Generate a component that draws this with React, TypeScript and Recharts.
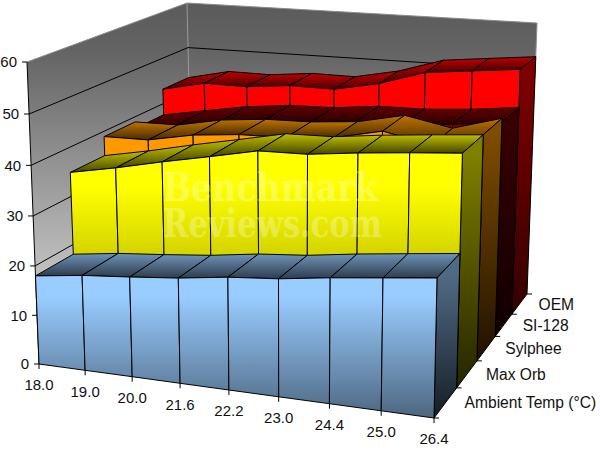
import { ComposedChart, Line, XAxis, YAxis } from "recharts";

const temps = ["18.0", "19.0", "20.0", "21.6", "22.2", "23.0", "24.4", "25.0", "26.4"];
const ambient = [18, 19.2, 20, 20.9, 22.2, 23, 24.3, 25.4, 26.5];
const maxOrb = [34.9, 36.7, 38.8, 40.7, 42.7, 42.9, 44, 44.9, 45.7];
const sylphee = [38.9, 39, 40.8, 41.7, 41.9, 42.7, 44.8, 42.9, 45.7];
const si128 = [37.5, 39.1, 40.7, 41.7, 41.9, 42.9, 43, 43.7, 44.8];
const oem = [43.2, 45.2, 45.1, 46, 45.9, 47.8, 50.8, 51.8, 52.8];
const yTicks = [0, 10, 20, 30, 40, 50, 60];

const data = temps.map((temp, i) => ({
  temp,
  ambient: ambient[i],
  maxOrb: maxOrb[i],
  sylphee: sylphee[i],
  si128: si128[i],
  oem: oem[i],
}));

// back to front, the order excel paints them
const SERIES = [
  { key: "oem", name: "OEM", band: 4, rgb: [255, 0, 0], top: [0.76, 0.3], side: [0.5, 0.2] },
  { key: "si128", name: "SI-128", band: 3, rgb: [128, 0, 0], top: [0.76, 0.36], side: [0.45, 0.12] },
  { key: "sylphee", name: "Sylphee", band: 2, rgb: [255, 153, 0], top: [0.75, 0.28], side: [0.5, 0.12] },
  { key: "maxOrb", name: "Max Orb", band: 1, rgb: [255, 255, 0], top: [0.75, 0.27], side: [0.5, 0.14] },
  { key: "ambient", name: "Ambient Temp (°C)", band: 0, rgb: [153, 204, 255], top: [0.72, 0.3], side: [0.52, 0.14] },
];

const PLOT = { left: 39, top: 62, width: 395, height: 302 };
const FONT = { fontFamily: "Liberation Sans", fontSize: 15, fill: "#111" };

const warp = (t: number, c: number) => t / (t + (1 - t) * c);
const mix = (p: number[], q: number[], t: number) => [p[0] + (q[0] - p[0]) * t, p[1] + (q[1] - p[1]) * t];

// a = along the categories, d = depth, h = height, all 0..1
const project = (a: number, d: number, h: number) => {
  const u = warp(a, 1.08);
  const v = warp(d, 0.78);
  const w = warp(h, 1.04);
  const base = mix(mix([39, 364], [434, 418], u), mix([193, 262], [527, 294], u), v);
  const roof = mix(mix([27, 62], [441, 94], u), mix([187, 3], [537, 23], u), v);
  return mix(base, roof, w);
};

const flatA = (cx: number) => (cx - PLOT.left) / PLOT.width;
const flatH = (cy: number) => (PLOT.top + PLOT.height - cy) / PLOT.height;
const toPath = (pts: number[][]) => pts.map((p) => `${p[0].toFixed(1)},${p[1].toFixed(1)}`).join(" ");
const shade = (rgb: number[], f: number) => `rgb(${rgb.map((c) => Math.round(c * f)).join(",")})`;

const Walls = () => {
  const grid = yTicks.filter((t) => t > 0 && t < 60);
  const corner = [project(0, 1, 0), project(0, 1, 1)];
  const axis = [project(0, 0, 0), project(0, 0, 1)];
  return (
    <g>
      <polygon points={toPath([project(0, 0, 0), project(0, 1, 0), project(1, 1, 0), project(1, 1, 1), project(0, 1, 1), project(0, 0, 1)])} fill="url(#wall)" />
      <polyline points={toPath([project(0, 0, 1), project(0, 1, 1), project(1, 1, 1), project(1, 1, 0.8)])} fill="none" stroke="#8c8c8c" strokeWidth={1} />
      <line x1={corner[0][0]} y1={corner[0][1]} x2={corner[1][0]} y2={corner[1][1]} stroke="#9a9a9a" />
      {grid.map((t) => (
        <polyline key={t} points={toPath([project(0, 0, t / 60), project(0, 1, t / 60), project(1, 1, t / 60)])} fill="none" stroke="#000" strokeWidth={1} />
      ))}
      <line x1={axis[0][0]} y1={axis[0][1]} x2={axis[1][0]} y2={axis[1][1]} stroke="#000" strokeWidth={1} />
    </g>
  );
};

// draws the whole ribbon of a series from the points the Line worked out
const ribbon = (s: (typeof SERIES)[number]) => (props: any) => {
  const { index, points } = props;
  if (index !== 0 || !points) return <g key={`${s.key}-${index}`} />;
  const d0 = s.band / 5;
  const d1 = (s.band + 1) / 5;
  const coords = points.map((p: any) => ({ a: flatA(p.x), h: flatH(p.y) }));
  const last = coords[coords.length - 1];
  const segs = coords.slice(0, -1).map((p: any, i: number) => [p, coords[i + 1]]);
  const tick = project(1, d0, 0);
  const mid = project(1, (d0 + d1) / 2, 0);
  const end = project(1, 1, 0);
  return (
    <g key={`${s.key}-0`}>
      {s.band === 4 && <Walls />}
      {segs.map(([p, q]: any, i: number) => (
        <polygon
          key={`top${i}`}
          points={toPath([project(p.a, d0, p.h), project(q.a, d0, q.h), project(q.a, d1, q.h), project(p.a, d1, p.h)])}
          fill={`url(#top-${s.key})`}
          stroke="#000"
          strokeWidth={1}
          strokeLinejoin="round"
        />
      ))}
      <polygon
        points={toPath([project(1, d0, last.h), project(1, d1, last.h), project(1, d1, 0), project(1, d0, 0)])}
        fill={`url(#side-${s.key})`}
        stroke="#000"
        strokeWidth={1}
      />
      {segs.map(([p, q]: any, i: number) => (
        <polygon
          key={`front${i}`}
          points={toPath([project(p.a, d0, p.h), project(q.a, d0, q.h), project(q.a, d0, 0), project(p.a, d0, 0)])}
          fill={`url(#front-${s.key})`}
          stroke="#000"
          strokeWidth={1}
          strokeLinejoin="round"
        />
      ))}
      <line x1={tick[0]} y1={tick[1]} x2={tick[0] + 5} y2={tick[1]} stroke="#000" />
      {s.band === 4 && <line x1={end[0]} y1={end[1]} x2={end[0] + 5} y2={end[1]} stroke="#000" />}
      <text x={mid[0] + 19} y={mid[1]} dy="0.36em" {...FONT} fontSize={15.6}>
        {s.name}
      </text>
      {s.band === 0 && (
        <g fontFamily="DejaVu Serif" fontWeight="bold" fontSize={40} fill="#fff" fillOpacity={0.3}>
          <text x={163} y={201} textLength={215} lengthAdjust="spacingAndGlyphs">Benchmark</text>
          <text x={163} y={237} textLength={219} lengthAdjust="spacingAndGlyphs">Reviews.com</text>
        </g>
      )}
    </g>
  );
};

const XTick = ({ payload }: any) => {
  const p = project(flatA(payload.coordinate), 0, 0);
  return (
    <g>
      <line x1={p[0]} y1={p[1]} x2={p[0]} y2={p[1] + 5} stroke="#000" />
      <text x={p[0]} y={p[1] + 21} dy="0.36em" textAnchor="middle" {...FONT}>
        {payload.value}
      </text>
    </g>
  );
};

const YTick = ({ payload }: any) => {
  const p = project(0, 0, flatH(payload.coordinate));
  return (
    <g>
      <line x1={p[0] - 5} y1={p[1]} x2={p[0]} y2={p[1]} stroke="#000" />
      <text x={p[0] - 10} y={p[1]} dy="0.36em" textAnchor="end" {...FONT}>
        {payload.value}
      </text>
    </g>
  );
};

export default function App() {
  return (
    <div style={{ position: "absolute", left: 0, top: 0, width: 600, height: 450, background: "#fff" }}>
      <ComposedChart width={600} height={450} data={data} margin={{ top: 62, left: 0, right: 166, bottom: 56 }}>
        <defs>
          <linearGradient id="wall" gradientUnits="userSpaceOnUse" x1="0" y1="10" x2="0" y2="290">
            <stop offset="0" stopColor="#5c5c5c" />
            <stop offset="0.15" stopColor="#646464" />
            <stop offset="1" stopColor="#c8c8c8" />
          </linearGradient>
          {SERIES.map((s) => {
            const vals = data.map((row: any) => row[s.key]);
            const topY = Math.min(...vals.map((v: number, i: number) => project(i / 8, s.band / 5, v / 60)[1]));
            const botY = project(1, s.band / 5, 0)[1];
            return (
              <g key={s.key}>
                <linearGradient id={`front-${s.key}`} gradientUnits="userSpaceOnUse" x1="0" y1={topY} x2="0" y2={botY}>
                  <stop offset="0" stopColor={shade(s.rgb, 1)} />
                  <stop offset="0.15" stopColor={shade(s.rgb, 1)} />
                  <stop offset="1" stopColor={shade(s.rgb, 0.5)} />
                </linearGradient>
                <linearGradient id={`top-${s.key}`} x1="0" y1="0" x2="0" y2="1">
                  <stop offset="0" stopColor={shade(s.rgb, s.top[0])} />
                  <stop offset="1" stopColor={shade(s.rgb, s.top[1])} />
                </linearGradient>
                <linearGradient id={`side-${s.key}`} gradientUnits="userSpaceOnUse" x1="0" y1={topY} x2="0" y2={botY}>
                  <stop offset="0" stopColor={shade(s.rgb, s.side[0])} />
                  <stop offset="1" stopColor={shade(s.rgb, s.side[1])} />
                </linearGradient>
              </g>
            );
          })}
        </defs>
        <XAxis dataKey="temp" scale="point" interval={0} height={30} axisLine={false} tickLine={false} tick={<XTick />} />
        <YAxis type="number" domain={[0, 60]} ticks={yTicks} width={39} axisLine={false} tickLine={false} tick={<YTick />} />
        {SERIES.map((s) => (
          <Line key={s.key} dataKey={s.key} stroke="none" type="linear" dot={ribbon(s)} activeDot={false} isAnimationActive={false} />
        ))}
      </ComposedChart>
    </div>
  );
}
